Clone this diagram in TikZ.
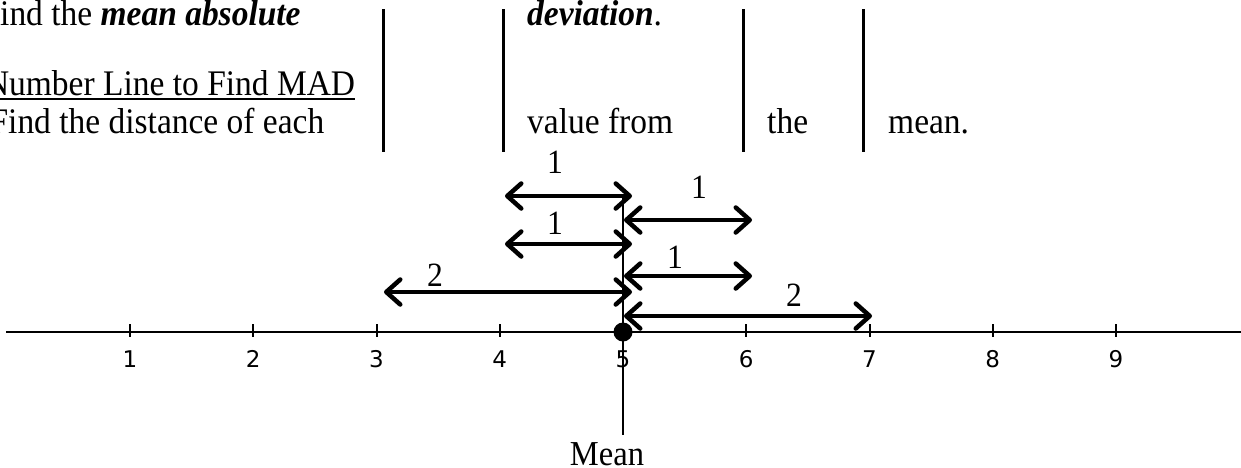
\documentclass[tikz,border=0pt]{standalone}
\usepackage{fontspec}
\setmainfont{Liberation Serif}[FakeStretch=0.93]
\newfontfamily\ticksans{DejaVu Sans}
\usetikzlibrary{arrows.meta,calc}
\begin{document}
\begin{tikzpicture}[x=1pt,y=-1pt,
  body/.style={inner sep=0pt, anchor=base west, font=\fontsize{36}{38}\selectfont},
  bar/.style={line width=3pt},
  axis/.style={line width=2pt},
  ticklbl/.style={inner sep=0pt, font=\ticksans\fontsize{23}{26}\selectfont},
  barb/.tip={Straight Barb[length=14pt,width=25pt,round]},
  dist/.style={line width=4.5pt, barb-barb},
  dlbl/.style={inner sep=0pt, font=\fontsize{34}{36}\selectfont},
]
\useasboundingbox (0,0) rectangle (1241,467);
\clip (0,0) rectangle (1241,467);

% heading text
\node[body] (t1) at (0,25) {\llap{F}ind the \textbf{\textit{mean absolute}}};
\node[body] (t2) at (527,25) {\textbf{\textit{deviation}}.};
\node[body] (t3) at (9,95) {\llap{N}umber Line to Find MAD};
\draw[line width=1.5pt] (0,99) -- ($(t3.base east)+(0,4)$);
\node[body] (t4) at (8,133) {\llap{F}ind the distance of each};
\node[body] (t5) at (527,133) {value from};
\node[body] (t6) at (767,133) {the};
\node[body] (t7) at (888,133) {mean.};

% separator bars
\foreach \bx in {383,503,743,863}
  \draw[bar] (\bx,9) -- (\bx,152);

% number line
\coordinate (nl0) at (6,332);
\coordinate (nl1) at (1241,332);
\draw[axis] (nl0) -- (nl1);
\foreach \i in {1,...,9} {
  \pgfmathsetmacro{\tx}{130+123.25*(\i-1)}
  \draw[axis] (\tx,324) -- (\tx,337);
  \node[ticklbl] (lab\i) at (\tx,359) {\i};
}

% mean marker
\coordinate (mtop) at (623,197);
\coordinate (mbot) at (623,435);
\draw[line width=2.5pt] (mtop) -- (mbot);
\node[circle, fill=black, inner sep=0pt, minimum size=19pt] (dot) at (623,332) {};
\node[inner sep=0pt, anchor=base, font=\fontsize{35}{37}\selectfont] (mean) at (607,465) {Mean};

% distance arrows
\coordinate (a1l) at (505,196); \coordinate (a1r) at (632,196);
\coordinate (a2l) at (624,220); \coordinate (a2r) at (752,220);
\coordinate (a3l) at (505,244); \coordinate (a3r) at (632,244);
\coordinate (a4l) at (624,276); \coordinate (a4r) at (752,276);
\coordinate (a5l) at (384,292); \coordinate (a5r) at (632,292);
\coordinate (a6l) at (624,316); \coordinate (a6r) at (872,316);
\draw[dist] (a1l) -- (a1r);
\draw[dist] (a2l) -- (a2r);
\draw[dist] (a3l) -- (a3r);
\draw[dist] (a4l) -- (a4r);
\draw[dist] (a5l) -- (a5r);
\draw[dist] (a6l) -- (a6r);
\node[dlbl] (d1) at (555,162) {1};
\node[dlbl] (d2) at (699,187) {1};
\node[dlbl] (d3) at (555,223) {1};
\node[dlbl] (d4) at (675,257) {1};
\node[dlbl] (d5) at (435,275) {2};
\node[dlbl] (d6) at (794,295) {2};
\end{tikzpicture}
\end{document}
